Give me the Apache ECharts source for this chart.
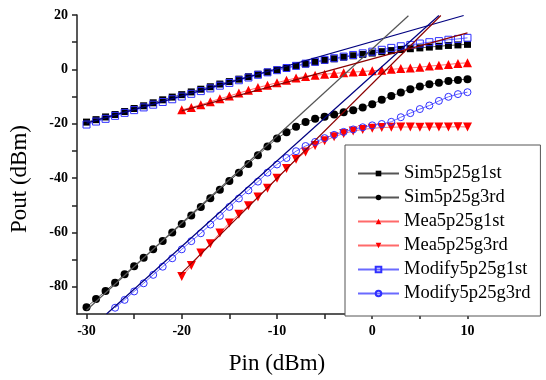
<!DOCTYPE html>
<html>
<head>
<meta charset="utf-8">
<script src="https://cdn.jsdelivr.net/npm/echarts@6/dist/echarts.min.js"></script>
<style>
  html, body { margin: 0; padding: 0; background: #fff; }
  #chart { width: 546px; height: 380px; }
</style>
</head>
<body>
<div id="chart"></div>
<script>
// input power (dBm)
const pin = [-30, -29, -28, -27, -26, -25, -24, -23, -22, -21, -20, -19, -18, -17, -16, -15, -14, -13, -12, -11,
  -10, -9, -8, -7, -6, -5, -4, -3, -2, -1, 0, 1, 2, 3, 4, 5, 6, 7, 8, 9, 10]
const pinMea = [-20, -19, -18, -17, -16, -15, -14, -13, -12, -11, -10, -9, -8, -7, -6, -5, -4, -3, -2, -1,
  0, 1, 2, 3, 4, 5, 6, 7, 8, 9, 10]
const pinMod3 = [-27, -26, -25, -24, -23, -22, -21, -20, -19, -18, -17, -16, -15, -14, -13, -12, -11,
  -10, -9, -8, -7, -6, -5, -4, -3, -2, -1, 0, 1, 2, 3, 4, 5, 6, 7, 8, 9, 10]

// output power (dBm)
const sim1st = [-19.4, -18.5, -17.5, -16.6, -15.5, -14.4, -13.4, -12.3, -11.2, -10.2, -9.3, -8.3, -7.3, -6.4, -5.4,
  -4.5, -3.6, -2.7, -1.8, -1.0, -0.2, 0.6, 1.3, 2.0, 2.7, 3.3, 3.9, 4.5, 5.0, 5.5, 6.0, 6.5, 6.9, 7.3, 7.6, 7.9,
  8.2, 8.5, 8.8, 9.0, 9.2]
const sim3rd = [-87.5, -84.5, -81.5, -78.5, -75.4, -72.4, -69.3, -66.2, -63.1, -60.0, -56.9, -53.8, -50.6, -47.4,
  -44.3, -41.1, -38.0, -34.8, -31.6, -28.4, -25.4, -23.1, -21.1, -19.4, -18.2, -17.4, -16.6, -15.8, -15.0, -14.0,
  -12.8, -11.2, -9.8, -8.5, -7.3, -6.3, -5.5, -4.9, -4.3, -3.9, -3.6]
const mea1st = [-14.9, -14.0, -13.0, -11.9, -10.8, -9.8, -8.7, -7.7, -6.7, -5.8, -4.9, -4.0, -3.2, -2.6, -2.2, -1.8,
  -1.5, -1.2, -1.0, -0.8, -0.5, -0.3, 0.0, 0.3, 0.5, 0.8, 1.2, 1.5, 1.8, 2.2, 2.4]
const mea3rd = [-76.2, -72.2, -67.6, -64.2, -60.2, -56.5, -53.3, -50.2, -47.0, -43.7, -40.1, -36.5, -33.1, -30.4,
  -28.0, -26.3, -24.8, -23.6, -22.7, -22.1, -21.7, -21.4, -21.3, -21.2, -21.2, -21.3, -21.2, -21.2, -21.2, -21.1, -21.2]
const mod1st = [-20.3, -19.2, -18.2, -17.1, -16.0, -15.0, -14.0, -13.0, -12.0, -11.0, -10.0, -9.0, -8.0, -7.0, -6.0,
  -5.0, -4.0, -3.0, -2.0, -1.1, -0.3, 0.5, 1.3, 2.1, 2.8, 3.5, 4.1, 4.7, 5.3, 5.9, 6.5, 7.2, 7.9, 8.5, 9.0, 9.5,
  10.0, 10.4, 10.9, 11.2, 11.6]
const mod3rd = [-87.7, -84.8, -81.7, -78.7, -75.6, -72.6, -69.5, -66.2, -63.2, -60.3, -57.1, -53.9, -50.6, -47.5,
  -44.5, -41.3, -38.0, -35.0, -32.6, -30.1, -28.2, -26.7, -25.3, -24.1, -23.0, -22.1, -21.3, -20.6, -20.1, -19.3,
  -17.6, -16.1, -14.6, -13.3, -11.6, -10.1, -9.1, -8.4]

// extrapolated lines (start / end)
const fitFundX = [-30, 9.6], fitFundY = [-19.8, 19.8]
const fitSim3X = [-30, 3.8], fitSim3Y = [-88.6, 19.7]
const fitMod3X = [-27.9, 7.0], fitMod3Y = [-90, 19.8]
const fitMea1X = [-20, 10], fitMea1Y = [-15.3, 13.4]
const fitMea3X = [-20.2, 7.2], fitMea3Y = [-75.6, 19.8]

const xTicks = [-30, -25, -20, -15, -10, -5, 0, 5, 10]
const xLabels = [-30, -20, -10, 0, 10]
const yTicks = [-80, -70, -60, -50, -40, -30, -20, -10, 0, 10, 20]
const yLabels = [-80, -60, -40, -20, 0, 20]

const pairs = (xs, ys) => xs.map((x, i) => [x, ys[i]])
const serif = 'Liberation Serif'
const black = '#000', red = '#ff0000', blue = '#3030ff'

// marker colour, thin connecting line colour
const dataSeries = (name, xs, ys, color, lineColor, symbol, size, opts = {}) => ({
  name,
  type: 'line',
  data: pairs(xs, ys),
  symbol,
  symbolSize: size,
  symbolRotate: opts.rotate || 0,
  lineStyle: { color: lineColor, width: 1 },
  itemStyle: opts.hollow
    ? { color: 'rgba(0,0,0,0)', borderColor: color, borderWidth: 1 }
    : { color },
  z: 2
})

const fitSeries = (xs, ys, color) => ({
  type: 'line',
  data: pairs(xs, ys),
  symbol: 'none',
  lineStyle: { color, width: 1.2 },
  silent: true,
  z: 3
})

const chart = echarts.init(document.getElementById('chart'), null, { renderer: 'canvas' })

chart.setOption({
  animation: false,
  backgroundColor: '#fff',
  grid: { left: 71, right: 69, top: 15, bottom: 63 },
  legend: {
    data: ['Sim5p25g1st', 'Sim5p25g3rd', 'Mea5p25g1st', 'Mea5p25g3rd', 'Modify5p25g1st', 'Modify5p25g3rd'],
    orient: 'vertical',
    left: 345,
    top: 145,
    padding: [19, 10, 13, 12],
    itemWidth: 41,
    itemHeight: 7,
    itemGap: 5,
    backgroundColor: '#fff',
    borderColor: '#555',
    borderWidth: 1,
    textStyle: { fontFamily: serif, fontSize: 18.5, lineHeight: 18, color: '#000' }
  },
  xAxis: {
    type: 'value',
    min: -31,
    max: 11,
    name: 'Pin (dBm)',
    nameLocation: 'middle',
    nameGap: 38,
    nameTextStyle: { fontFamily: serif, fontSize: 23, color: '#000' },
    splitLine: { show: false },
    axisLine: { onZero: false, lineStyle: { color: '#222', width: 1.5 } },
    axisTick: { customValues: xTicks, length: 5, lineStyle: { color: '#222', width: 1.5 } },
    axisLabel: {
      customValues: xLabels,
      margin: 10,
      fontFamily: serif,
      fontWeight: 'bold',
      fontSize: 14,
      color: '#000'
    }
  },
  yAxis: {
    type: 'value',
    min: -90,
    max: 20,
    name: 'Pout (dBm)',
    nameLocation: 'middle',
    nameRotate: 90,
    nameGap: 46,
    nameTextStyle: { fontFamily: serif, fontSize: 23, color: '#000', padding: [0, 29, 0, 0] },
    splitLine: { show: false },
    axisLine: { onZero: false, lineStyle: { color: '#222', width: 1.5 } },
    axisTick: { customValues: yTicks, length: 5, lineStyle: { color: '#222', width: 1.5 } },
    axisLabel: {
      customValues: yLabels,
      margin: 9,
      fontFamily: serif,
      fontWeight: 'bold',
      fontSize: 14,
      color: '#000'
    }
  },
  series: [
    dataSeries('Sim5p25g1st', pin, sim1st, black, '#555', 'rect', 7),
    dataSeries('Sim5p25g3rd', pin, sim3rd, black, '#555', 'circle', 8),
    dataSeries('Mea5p25g1st', pinMea, mea1st, red, '#ff6a6a', 'triangle', 9),
    dataSeries('Mea5p25g3rd', pinMea, mea3rd, red, '#ff6a6a', 'triangle', 9, { rotate: 180 }),
    dataSeries('Modify5p25g1st', pin, mod1st, blue, '#6a6aff', 'rect', 7, { hollow: true }),
    dataSeries('Modify5p25g3rd', pinMod3, mod3rd, blue, '#6a6aff', 'circle', 7, { hollow: true }),
    fitSeries(fitFundX, fitFundY, '#000080'),
    fitSeries(fitSim3X, fitSim3Y, '#555555'),
    fitSeries(fitMod3X, fitMod3Y, '#000080'),
    fitSeries(fitMea1X, fitMea1Y, '#8b0000'),
    fitSeries(fitMea3X, fitMea3Y, '#8b0000')
  ]
})

window.addEventListener('resize', () => chart.resize())
</script>
</body>
</html>
